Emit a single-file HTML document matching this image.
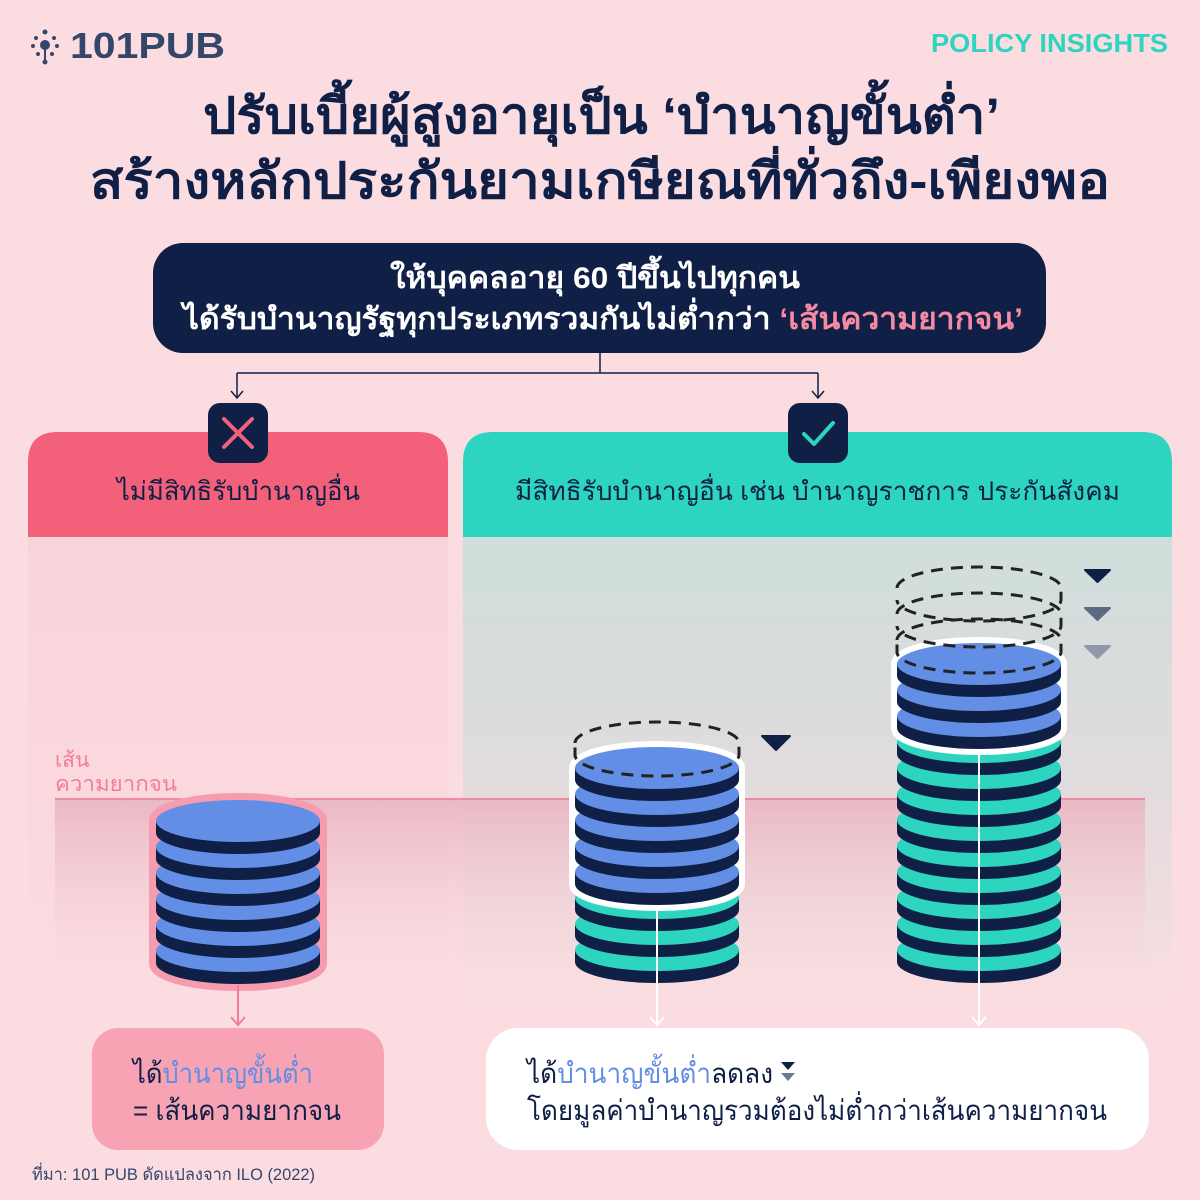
<!DOCTYPE html>
<html><head><meta charset="utf-8"><style>
html,body{margin:0;padding:0;background:#fbdde1;}
svg{display:block}
text{font-family:"Liberation Sans","Noto Sans CJK SC",sans-serif;}
</style></head><body>
<svg width="1200" height="1200" viewBox="0 0 1200 1200" xmlns="http://www.w3.org/2000/svg">
<defs>
<linearGradient id="lbody" x1="0" y1="0" x2="0" y2="1">
<stop offset="0" stop-color="#f9d3da"/><stop offset="1" stop-color="#fbdde1"/></linearGradient>
<linearGradient id="rbody" x1="0" y1="0" x2="0" y2="1">
<stop offset="0" stop-color="#cfdedc"/><stop offset="0.5" stop-color="#e0dcdd"/><stop offset="1" stop-color="#fbdde1"/></linearGradient>
<linearGradient id="pov" x1="0" y1="0" x2="0" y2="1">
<stop offset="0" stop-color="#eab8c4"/><stop offset="1" stop-color="#fbdde1" stop-opacity="0"/></linearGradient>
<g id="cb"><rect x="-82" y="0" width="164" height="12" fill="#0f1f45"/><ellipse cx="0" cy="12" rx="82" ry="21" fill="#0f1f45"/><ellipse cx="0" cy="0" rx="82" ry="21" fill="#628ee6"/></g>
<g id="ct"><rect x="-82" y="0" width="164" height="12" fill="#0f1f45"/><ellipse cx="0" cy="12" rx="82" ry="21" fill="#0f1f45"/><ellipse cx="0" cy="0" rx="82" ry="21" fill="#2dd4c0"/></g>
</defs>
<rect width="1200" height="1200" fill="#fbdde1"/>

<!-- logo -->
<g fill="#34466a">
<circle cx="45" cy="45" r="5"/><circle cx="45" cy="32" r="2.5"/><circle cx="36" cy="38" r="2"/><circle cx="54" cy="38" r="2"/><circle cx="33" cy="46" r="2"/><circle cx="57" cy="46" r="2"/><circle cx="38" cy="54" r="2"/><circle cx="52" cy="54" r="2"/><circle cx="45" cy="62" r="2.5"/>
<line x1="45" y1="45" x2="45" y2="62" stroke="#34466a" stroke-width="2"/>
</g>
<text x="70" y="58" font-size="36" font-weight="bold" fill="#34466a" textLength="155" lengthAdjust="spacingAndGlyphs">101PUB</text>
<text x="931" y="52" font-size="26" font-weight="bold" fill="#2dd4c0" textLength="237" lengthAdjust="spacingAndGlyphs">POLICY INSIGHTS</text>

<!-- title -->
<text x="203" y="133" font-size="50" font-weight="bold" fill="#0f1f45" textLength="797" lengthAdjust="spacingAndGlyphs">ปรับเบี้ยผู้สูงอายุเป็น ‘บำนาญขั้นต่ำ’</text>
<text x="90" y="198" font-size="50" font-weight="bold" fill="#0f1f45" textLength="1020" lengthAdjust="spacingAndGlyphs">สร้างหลักประกันยามเกษียณที่ทั่วถึง-เพียงพอ</text>

<rect x="153" y="243" width="893" height="110" rx="30" fill="#0f1f45"/>
<text x="390" y="288" font-size="30" font-weight="bold" fill="#fff" textLength="410" lengthAdjust="spacingAndGlyphs">ให้บุคคลอายุ 60 ปีขึ้นไปทุกคน</text>
<text x="183" y="329" font-size="30" font-weight="bold" fill="#fff" textLength="840" lengthAdjust="spacingAndGlyphs">ได้รับบำนาญรัฐทุกประเภทรวมกันไม่ต่ำกว่า <tspan fill="#f58aa2">‘เส้นความยากจน’</tspan></text>

<!-- connectors -->
<path d="M600 353 V373 M237 373 H818 M237 373 V398 M818 373 V398" stroke="#0f1f45" stroke-width="1.5" fill="none"/>
<path d="M231 391 L237 398 L243 391 M812 391 L818 398 L824 391" stroke="#0f1f45" stroke-width="1.5" fill="none"/>

<!-- panels -->
<rect x="28" y="537" width="420" height="470" fill="url(#lbody)"/>
<rect x="463" y="537" width="709" height="470" fill="url(#rbody)"/>
<path d="M28 537 V462 Q28 432 58 432 H418 Q448 432 448 462 V537 Z" fill="#f2607a"/>
<path d="M463 537 V462 Q463 432 493 432 H1142 Q1172 432 1172 462 V537 Z" fill="#2dd4c0"/>
<text x="117" y="500" font-size="26" fill="#0f1f45" textLength="243" lengthAdjust="spacingAndGlyphs">ไม่มีสิทธิรับบำนาญอื่น</text>
<text x="515" y="500" font-size="26" fill="#0f1f45" textLength="605" lengthAdjust="spacingAndGlyphs">มีสิทธิรับบำนาญอื่น เช่น บำนาญราชการ ประกันสังคม</text>

<rect x="208" y="403" width="60" height="60" rx="12" fill="#0f1f45"/>
<path d="M224 419 L252 447 M252 419 L224 447" stroke="#f2607a" stroke-width="4" stroke-linecap="round"/>
<rect x="788" y="403" width="60" height="60" rx="12" fill="#0f1f45"/>
<path d="M804 434 L814 444 L833 423" stroke="#2dd4c0" stroke-width="4" fill="none" stroke-linecap="round" stroke-linejoin="round"/>

<!-- poverty line -->
<rect x="55" y="799" width="1090" height="200" fill="url(#pov)"/>
<line x1="55" y1="799" x2="1145" y2="799" stroke="#f08aa0" stroke-width="2"/>
<text x="55" y="767" font-size="21" fill="#f27d96">เส้น</text>
<text x="55" y="791" font-size="21" fill="#f27d96" textLength="122" lengthAdjust="spacingAndGlyphs">ความยากจน</text>

<!-- left stack -->
<path d="M156 821 A82 21 0 0 1 320 821 V963 A82 21 0 0 1 156 963 Z" fill="#f59cae" stroke="#f59cae" stroke-width="14" stroke-linejoin="round"/>
<g transform="translate(238,0)">
<use href="#cb" y="951"/><use href="#cb" y="925"/><use href="#cb" y="899"/><use href="#cb" y="873"/><use href="#cb" y="847"/><use href="#cb" y="821"/>
</g>
<line x1="238" y1="985" x2="238" y2="1025" stroke="#f27d96" stroke-width="2"/>
<path d="M231 1017 L238 1025 L245 1017" stroke="#f27d96" stroke-width="2" fill="none"/>

<!-- middle stack -->
<g transform="translate(657,0)">
<use href="#ct" y="950"/><use href="#ct" y="924"/><use href="#ct" y="898"/>
<path d="M-82 768 A82 21 0 0 1 82 768 V884 A82 21 0 0 1 -82 884 Z" fill="#fff" stroke="#fff" stroke-width="12" stroke-linejoin="round"/>
<use href="#cb" y="872"/><use href="#cb" y="846"/><use href="#cb" y="820"/><use href="#cb" y="794"/><use href="#cb" y="768"/>
<path d="M-82 743 A82 21 0 0 1 82 743 V755 A82 21 0 0 1 -82 755 Z" fill="none" stroke="#222" stroke-width="3" stroke-dasharray="12 8"/>
</g>
<line x1="657" y1="905" x2="657" y2="1025" stroke="#fff" stroke-width="2"/>
<path d="M650 1017 L657 1025 L664 1017" stroke="#fff" stroke-width="2" fill="none"/>
<path d="M762 736 L790 736 L776 750 Z" fill="#0f1f45" stroke="#0f1f45" stroke-width="2" stroke-linejoin="round"/>

<!-- right stack -->
<g transform="translate(979,0)">
<use href="#ct" y="950"/><use href="#ct" y="924"/><use href="#ct" y="898"/><use href="#ct" y="872"/><use href="#ct" y="846"/><use href="#ct" y="820"/><use href="#ct" y="794"/><use href="#ct" y="768"/><use href="#ct" y="742"/>
<path d="M-82 664 A82 21 0 0 1 82 664 V728 A82 21 0 0 1 -82 728 Z" fill="#fff" stroke="#fff" stroke-width="12" stroke-linejoin="round"/>
<use href="#cb" y="716"/><use href="#cb" y="690"/><use href="#cb" y="664"/>
<g fill="none" stroke="#222" stroke-width="3" stroke-dasharray="12 8">
<path d="M-82 640 A82 21 0 0 1 82 640 V652 A82 21 0 0 1 -82 652 Z"/>
<path d="M-82 614 A82 21 0 0 1 82 614 V626 A82 21 0 0 1 -82 626"/>
<path d="M-82 588 A82 21 0 0 1 82 588 V600 A82 21 0 0 1 -82 600"/>
</g>
</g>
<line x1="979" y1="750" x2="979" y2="1025" stroke="#fff" stroke-width="2"/>
<path d="M972 1017 L979 1025 L986 1017" stroke="#fff" stroke-width="2" fill="none"/>
<path d="M1085 570 L1110 570 L1097.5 582 Z" fill="#0f1f45" stroke="#0f1f45" stroke-width="2" stroke-linejoin="round"/>
<path d="M1085 608 L1110 608 L1097.5 620 Z" fill="#5a6a80" stroke="#5a6a80" stroke-width="2" stroke-linejoin="round"/>
<path d="M1085 646 L1110 646 L1097.5 658 Z" fill="#8e9aa8" stroke="#8e9aa8" stroke-width="2" stroke-linejoin="round"/>

<!-- bottom boxes -->
<rect x="92" y="1028" width="292" height="122" rx="26" fill="#f8a3b3"/>
<text x="133" y="1083" font-size="28" fill="#0f1f45" textLength="180" lengthAdjust="spacingAndGlyphs">ได้<tspan fill="#628ee6">บำนาญขั้นต่ำ</tspan></text>
<text x="133" y="1120" font-size="28" fill="#0f1f45" textLength="208" lengthAdjust="spacingAndGlyphs">= เส้นความยากจน</text>
<rect x="486" y="1028" width="663" height="122" rx="32" fill="#fff"/>
<text x="527" y="1083" font-size="28" fill="#0f1f45" textLength="246" lengthAdjust="spacingAndGlyphs">ได้<tspan fill="#628ee6">บำนาญขั้นต่ำ</tspan>ลดลง</text>
<path d="M781 1062 L795 1062 L788 1070 Z" fill="#0f1f45"/><path d="M781 1073 L795 1073 L788 1081 Z" fill="#6a7890"/>
<text x="527" y="1120" font-size="28" fill="#0f1f45" textLength="580" lengthAdjust="spacingAndGlyphs">โดยมูลค่าบำนาญรวมต้องไม่ต่ำกว่าเส้นความยากจน</text>

<text x="32" y="1180" font-size="17" fill="#34466a" textLength="283" lengthAdjust="spacingAndGlyphs">ที่มา: 101 PUB ดัดแปลงจาก ILO (2022)</text>
</svg>
</body></html>
